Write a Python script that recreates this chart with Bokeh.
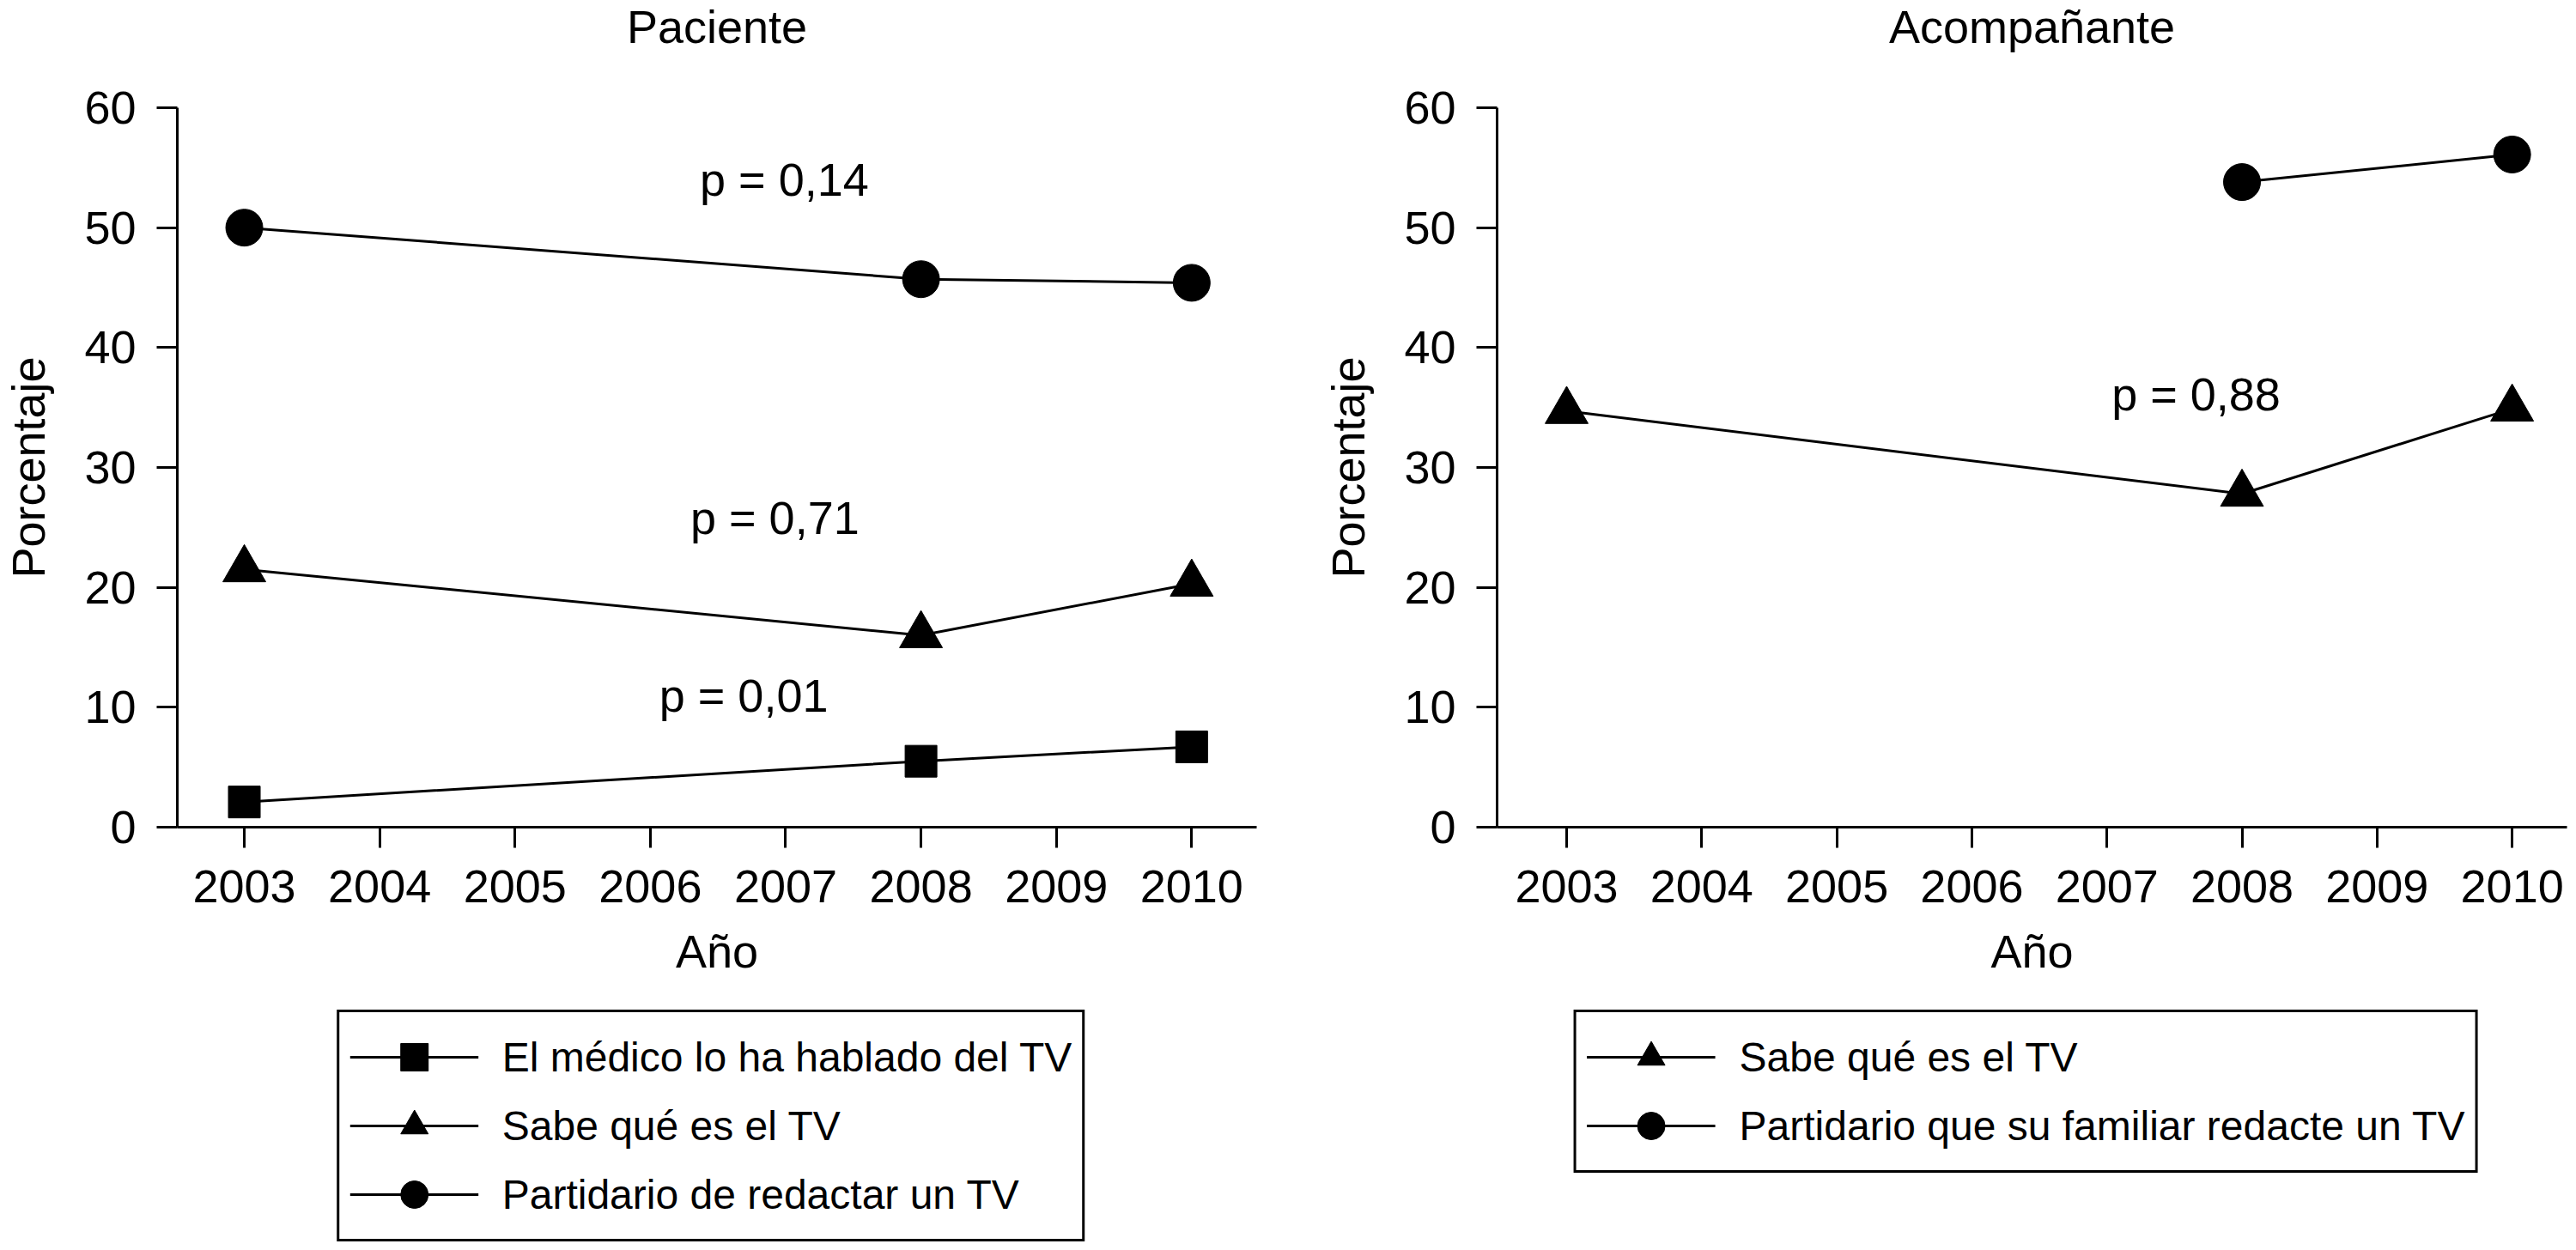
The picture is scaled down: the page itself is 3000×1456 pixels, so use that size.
from bokeh.plotting import figure
from bokeh.layouts import row, column
from bokeh.models import Range1d, FixedTicker, Legend, LegendItem, Title
from bokeh.core.properties import value
from bokeh.embed import file_html
from bokeh.resources import INLINE

FONT = "Liberation Sans"

# Axis ticks
anios = [2003, 2004, 2005, 2006, 2007, 2008, 2009, 2010]
porcentajes = [0, 10, 20, 30, 40, 50, 60]

# Paciente
pac_years = [2003, 2008, 2010]
pac_medico = [2.1, 5.5, 6.7]
pac_sabe = [21.5, 16.0, 20.3]
pac_partidario = [50.0, 45.7, 45.4]
pac_p_text = ["p = 0,14", "p = 0,71", "p = 0,01"]
pac_p_x = [2006.99, 2006.92, 2006.69]
pac_p_y = [54.0, 25.8, 11.0]

# Acompañante
aco_years_sabe = [2003, 2008, 2010]
aco_sabe = [34.7, 27.8, 34.9]
aco_years_part = [2008, 2010]
aco_partidario = [53.8, 56.1]
aco_p_text = ["p = 0,88"]
aco_p_x = [2007.66]
aco_p_y = [36.1]


def draw_series(p, series):
    items = []
    for xs, ys, marker, size, label in series:
        r_line = p.line(xs, ys, line_color="black", line_width=3)
        r_mark = p.scatter(xs, ys, marker=marker, size=size,
                           fill_color="black", line_color="black")
        items.append(LegendItem(label=label, renderers=[r_line, r_mark]))
    return items


def make_panel(title, x_range, frame_width, border_left, border_right,
               series, p_x, p_y, p_text):
    p = figure(title=None, frame_width=frame_width, frame_height=838,
               x_range=x_range, y_range=Range1d(0, 60),
               min_border_left=border_left, min_border_right=border_right,
               min_border_top=120, min_border_bottom=0,
               toolbar_location=None, output_backend="svg",
               background_fill_color="white", border_fill_color="white")

    # spacer next to the frame, then the title on top of it
    p.add_layout(Title(text=" ", text_font_size="10px", standoff=50), "above")
    p.add_layout(Title(text=title, align="center", vertical_align="top",
                       standoff=0, text_font=FONT, text_font_size="54px",
                       text_font_style="normal", text_color="black"), "above")

    # Axes
    p.xaxis.ticker = FixedTicker(ticks=anios)
    p.yaxis.ticker = FixedTicker(ticks=porcentajes)
    p.xaxis.axis_label = "Año"
    p.yaxis.axis_label = "Porcentaje"
    for ax in p.axis:
        ax.axis_line_width = 3
        ax.axis_line_color = "black"
        ax.major_tick_line_width = 3
        ax.major_tick_line_color = "black"
        ax.major_tick_out = 24
        ax.major_tick_in = 0
        ax.minor_tick_out = 0
        ax.minor_tick_in = 0
        ax.major_label_text_font = FONT
        ax.major_label_text_font_size = "54px"
        ax.major_label_text_color = "black"
        ax.axis_label_text_font = FONT
        ax.axis_label_text_font_size = "54px"
        ax.axis_label_text_font_style = "normal"
        ax.axis_label_text_color = "black"
    p.xaxis.major_label_standoff = 26
    p.xaxis.axis_label_standoff = 24
    p.yaxis.major_label_standoff = 24
    p.yaxis.axis_label_standoff = 32
    p.grid.visible = False
    p.outline_line_color = None

    draw_series(p, series)

    # p-values
    p.text(x=p_x, y=p_y, text=p_text, text_font=value(FONT),
           text_font_size="54px", text_align="center",
           text_baseline="middle", text_color="black")
    return p


def make_legend(frame_width, border_left, border_right, series):
    # Legend box under each panel; the proxy glyphs fall outside this frame
    q = figure(title=None, frame_width=frame_width, frame_height=306,
               x_range=Range1d(0, 1), y_range=Range1d(0, 1),
               min_border_left=border_left, min_border_right=border_right,
               min_border_top=0, min_border_bottom=0,
               x_axis_location=None, y_axis_location=None,
               toolbar_location=None, output_backend="svg",
               background_fill_color="white", border_fill_color="white")
    q.grid.visible = False
    q.outline_line_color = None
    items = draw_series(q, series)
    legend = Legend(items=items, location="top_center", orientation="vertical",
                    label_text_font=FONT, label_text_font_size="48px",
                    label_text_color="black",
                    glyph_width=150, glyph_height=80, label_standoff=28,
                    padding=12, spacing=0, margin=36,
                    border_line_color="black", border_line_width=3,
                    border_line_alpha=1.0,
                    background_fill_color="white")
    q.add_layout(legend)
    return q


pac_series = [
    (pac_years, pac_medico, "square", 37, "El médico lo ha hablado del TV"),
    (pac_years, pac_sabe, "triangle", 50, "Sabe qué es el TV"),
    (pac_years, pac_partidario, "circle", 43, "Partidario de redactar un TV"),
]
aco_series = [
    (aco_years_sabe, aco_sabe, "triangle", 50, "Sabe qué es el TV"),
    (aco_years_part, aco_partidario, "circle", 43, "Partidario que su familiar redacte un TV"),
]

p1 = make_panel("Paciente", Range1d(2002.505, 2010.48), 1257, 199, 36,
                pac_series, pac_p_x, pac_p_y, pac_p_text)
p2 = make_panel("Acompañante", Range1d(2002.485, 2010.406), 1246, 244, 2,
                aco_series, aco_p_x, aco_p_y, aco_p_text)
l1 = make_legend(1257, 199, 36, pac_series)
l2 = make_legend(1246, 244, 2, aco_series)

p = column(row(p1, p2), row(l1, l2))
open("out.html", "w").write(file_html(p, INLINE))
